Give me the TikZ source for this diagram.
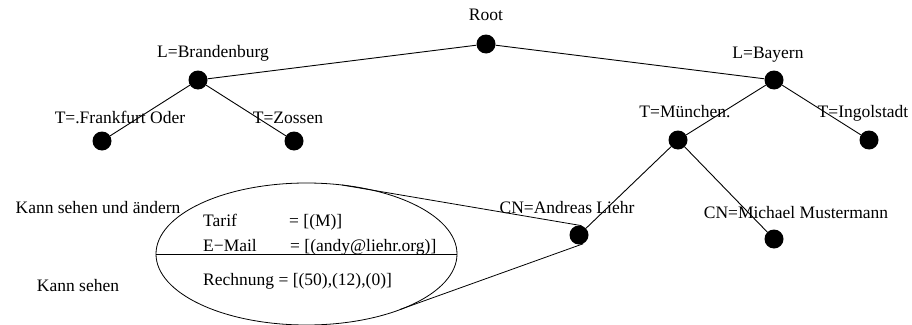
\documentclass[tikz,border=0pt]{standalone}
\usepackage{fontspec}
\setmainfont{Liberation Serif}
\usetikzlibrary{shapes.geometric}
\tikzset{
  dot/.style={circle, fill=black, draw=none, minimum size=19pt, inner sep=0pt},
  lbl/.style={anchor=base, inner sep=0pt, font=\fontsize{17.5}{20}\selectfont},
  lbll/.style={anchor=base west, inner sep=0pt, font=\fontsize{17.5}{20}\selectfont},
  edge/.style={line width=0.9pt},
}
\begin{document}
\begin{tikzpicture}[x=1pt, y=-1pt]
\useasboundingbox (0,0) rectangle (912,324);
% dots
\node[dot] (root) at (486,44) {};
\node[dot] (bb) at (198,80) {};
\node[dot] (by) at (774,80) {};
\node[dot] (ff) at (102,141) {};
\node[dot] (zo) at (294,141) {};
\node[dot] (mu) at (678,140) {};
\node[dot] (in) at (869,140) {};
\node[dot] (an) at (579,235) {};
\node[dot] (mi) at (774,239) {};
% labels
\node[lbl] (lroot) at (486,20) {Root};
\node[lbl] (lbb) at (213,57) {L=Brandenburg};
\node[lbl] (lby) at (768,58) {L=Bayern};
\node[lbl] (lff) at (120,123) {T=.Frankfurt Oder};
\node[lbl] (lzo) at (288,123) {T=Zossen};
\node[lbl] (lmu) at (685,117) {T=München.};
\node[lbl] (lin) at (863,117) {T=Ingolstadt};
\node[lbl] (lan) at (567,213) {CN=Andreas Liehr};
\node[lbl] (lmi) at (796,218) {CN=Michael Mustermann};
\node[lbl] (lk1) at (98,213) {Kann sehen und ändern};
\node[lbl] (lk2) at (78,291) {Kann sehen};
% edges
\draw[edge] (root) -- (bb);
\draw[edge] (root) -- (by);
\draw[edge] (bb) -- (ff);
\draw[edge] (bb) -- (zo);
\draw[edge] (by) -- (mu);
\draw[edge] (by) -- (in);
\draw[edge] (mu) -- (an);
\draw[edge] (mu) -- (mi);
% callout ellipse
\node[ellipse, draw, line width=0.8pt, minimum width=301pt, minimum height=142pt, inner sep=0pt] (ell) at (306.5,254) {};
\draw[line width=0.8pt] (ell.west) -- (ell.east);
\coordinate (ctop) at (342,185);
\coordinate (cbot) at (400,309.5);
\draw[line width=0.8pt] (ctop) -- (an.75);
\draw[line width=0.8pt] (cbot) -- (an.-65);
% attribute texts
\node[lbll] (t1a) at (203,226) {Tarif};
\node[lbll] (t1b) at (289,226) {= [(M)]};
\node[lbll] (t2a) at (203,251) {E−Mail};
\node[lbll] (t2b) at (290,251) {= [(andy@liehr.org)]};
\node[lbll] (t3) at (203,285) {Rechnung = [(50),(12),(0)]};
\end{tikzpicture}
\end{document}
